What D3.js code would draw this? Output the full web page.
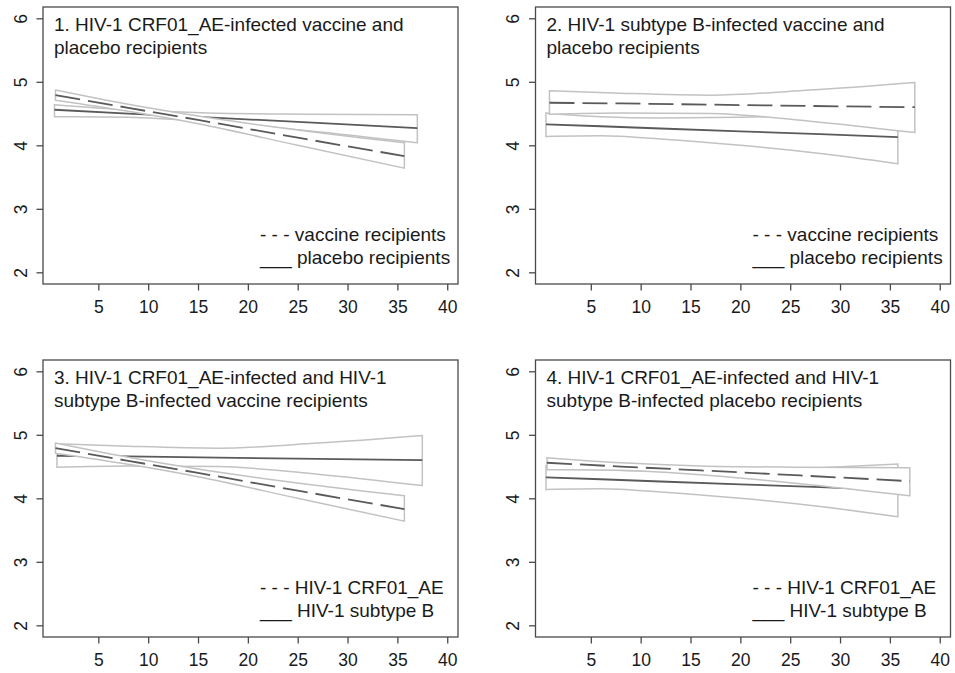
<html>
<head>
<script src="https://d3js.org/d3.v7.min.js"></script>
<style>
body { margin: 0; background: #fff; }
svg { font-family: "Liberation Sans", Arial, sans-serif; }
.band { fill: #fff; stroke: #c2c2c2; stroke-width: 1.5; }
.fit { fill: none; stroke: #5a5a5a; stroke-width: 1.8; }
.frame { fill: none; stroke: #4a4a4a; stroke-width: 1.3; }
.tick line { stroke: #4a4a4a; stroke-width: 1.3; }
</style>
</head>
<body>
<div id="plot"></div>
<script>

// rows: [time, lower, fit, upper]
var aeVaccine = [[0.7, 4.71, 4.79, 4.87], [8, 4.535, 4.59, 4.645], [15, 4.34, 4.40, 4.46], [25, 4.00, 4.12, 4.24], [35.7, 3.64, 3.83, 4.04]];
var aePlacebo = [[0.6, 4.45, 4.56, 4.64], [8, 4.44, 4.50, 4.56], [16, 4.37, 4.44, 4.51], [26, 4.23, 4.36, 4.49], [37, 4.04, 4.27, 4.48]];
var bVaccine = [[0.85, 4.49, 4.67, 4.86], [8, 4.51, 4.66, 4.82], [17, 4.50, 4.64, 4.79], [27, 4.38, 4.62, 4.87], [37.5, 4.20, 4.60, 4.99]];
var bPlacebo = [[0.5, 4.14, 4.33, 4.51], [6, 4.15, 4.30, 4.45], [12, 4.10, 4.265, 4.43], [20, 4.00, 4.22, 4.44], [28, 3.87, 4.175, 4.48], [35.8, 3.71, 4.13, 4.54]];

var titles = [
  ["1. HIV-1 CRF01_AE-infected vaccine and", "placebo recipients"],
  ["2. HIV-1 subtype B-infected vaccine and", "placebo recipients"],
  ["3. HIV-1 CRF01_AE-infected and HIV-1", "subtype B-infected vaccine recipients"],
  ["4. HIV-1 CRF01_AE-infected and HIV-1", "subtype B-infected placebo recipients"]
];
var legends = [
  ["- - - vaccine recipients", "___ placebo recipients"],
  ["- - - vaccine recipients", "___ placebo recipients"],
  ["- - - HIV-1 CRF01_AE", "___ HIV-1 subtype B"],
  ["- - - HIV-1 CRF01_AE", "___ HIV-1 subtype B"]
];
// first entry is the solid one (drawn first), second the dashed one
var panelSeries = [[aePlacebo, aeVaccine], [bPlacebo, bVaccine], [bVaccine, aeVaccine], [bPlacebo, aePlacebo]];

var xTicks = [5, 10, 15, 20, 25, 30, 35, 40];
var yTicks = [2, 3, 4, 5, 6];

var width = 955, height = 673;
var plotW = 415, plotH = 277;
var panelPos = [[43, 7], [535.5, 7], [43, 360], [535.5, 360]];

var svg = d3.select("#plot").append("svg")
  .attr("width", width).attr("height", height);

var xScale = d3.scaleLinear().domain([-0.55, 41.08]).range([0, plotW]);
var yScale = d3.scaleLinear().domain([1.816, 6.178]).range([plotH, 0]);

var band = d3.area().curve(d3.curveMonotoneX)
  .x(function (d) { return xScale(d[0]); })
  .y0(function (d) { return yScale(d[1]); })
  .y1(function (d) { return yScale(d[3]); });

var fitLine = d3.line()
  .x(function (d) { return xScale(d[0]); })
  .y(function (d) { return yScale(d[2]); });

panelSeries.forEach(function (series, i) {
  var g = svg.append("g")
    .attr("transform", "translate(" + panelPos[i][0] + "," + panelPos[i][1] + ")");

  series.forEach(function (s, j) {
    g.append("path").attr("class", "band").attr("d", band(s));
    g.append("path").attr("class", "fit").attr("d", fitLine(s))
      .style("stroke-dasharray", j === 1 ? "25,8" : null);
  });

  g.append("rect").attr("class", "frame")
    .attr("width", plotW).attr("height", plotH);

  var xAxis = g.append("g").attr("transform", "translate(0," + plotH + ")")
    .call(d3.axisBottom(xScale).tickValues(xTicks).tickSize(6.5).tickPadding(12));
  xAxis.select(".domain").remove();
  xAxis.selectAll("text").style("font-size", "17.5px").attr("fill", "#1a1a1a")
    .attr("dy", "0.6em");

  var yAxis = g.append("g")
    .call(d3.axisLeft(yScale).tickValues(yTicks).tickSize(6.5));
  yAxis.select(".domain").remove();
  yAxis.selectAll("text").remove();
  yAxis.selectAll(".tick").append("text")
    .attr("transform", "translate(-16.5,0) rotate(-90)")
    .attr("text-anchor", "middle")
    .attr("fill", "#1a1a1a")
    .style("font-size", "17.5px")
    .text(function (d) { return d; });

  g.selectAll("text.title").data(titles[i]).enter().append("text")
    .attr("class", "title")
    .attr("x", 11).attr("y", function (d, k) { return 24.3 + k * 22.8; })
    .attr("fill", "#1a1a1a").style("font-size", "19px")
    .text(function (d) { return d; });

  g.selectAll("text.legend").data(legends[i]).enter().append("text")
    .attr("class", "legend")
    .attr("x", 217).attr("y", function (d, k) { return 233.7 + k * 23.3; })
    .attr("fill", "#1a1a1a").style("font-size", "19px")
    .text(function (d) { return d; });
});

</script>
</body>
</html>
